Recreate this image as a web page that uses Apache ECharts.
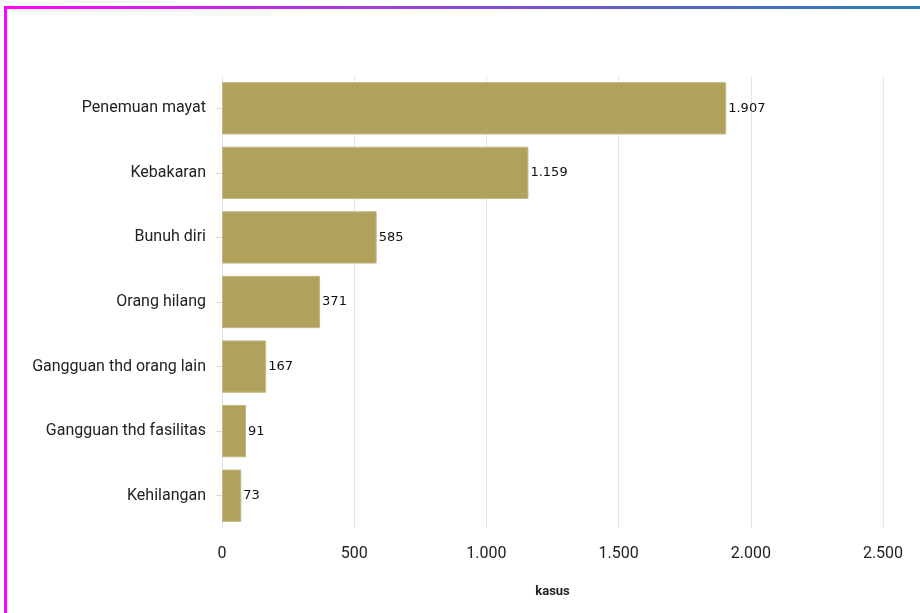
<!DOCTYPE html>
<html>
<head>
<meta charset="utf-8">
<script src="https://cdn.jsdelivr.net/npm/echarts@6/dist/echarts.min.js"></script>
<style>
  html, body { margin: 0; padding: 0; background: #fff; }
  #frame { position: absolute; left: 0; top: 0; width: 920px; height: 613px; }
  #topline { position: absolute; left: 4px; top: 6px; width: 916px; height: 3px;
    background: linear-gradient(to right, #ff00ff, #a43fd9 40%, #5a62c8 70%, #2a7db5); }
  #leftline { position: absolute; left: 4px; top: 6px; width: 3px; height: 607px; background: #ff00ff; }
  #chart { position: absolute; left: 0; top: 0; width: 920px; height: 613px; }
</style>
</head>
<body>
<div id="frame">
  <div id="chart"></div>
  <div id="topline"></div>
  <div id="leftline"></div>
</div>
<script>
// kategori kejadian
var kategori = ['Penemuan mayat', 'Kebakaran', 'Bunuh diri', 'Orang hilang',
    'Gangguan thd orang lain', 'Gangguan thd fasilitas', 'Kehilangan'];
// jumlah kasus
var kasus = [1907, 1159, 585, 371, 167, 91, 73];

function titik(v){
    return String(v).replace(/\B(?=(\d{3})+(?!\d))/g, '.');
}

var option = {
    animation: false,
    grid: { left: 222, right: 37, top: 76, bottom: 85 },
    xAxis: {
        type: 'value',
        min: 0,
        max: 2500,
        interval: 500,
        name: 'kasus',
        nameLocation: 'middle',
        nameGap: 57,
        nameTextStyle: { fontFamily: 'Roboto', fontWeight: 'bold', fontSize: 13, color: '#222' },
        axisLine: { show: false },
        axisTick: { show: false },
        axisLabel: {
            margin: 18,
            fontFamily: 'Roboto',
            fontSize: 16,
            color: '#222',
            formatter: function(v){ return titik(v); }
        },
        splitLine: { show: true, lineStyle: { color: '#e6e6e6', width: 1 } }
    },
    yAxis: {
        type: 'category',
        inverse: true,
        data: kategori,
        axisLine: { show: true, lineStyle: { color: '#e3e3e3', width: 1 } },
        axisTick: { show: true, length: 6, alignWithLabel: true, lineStyle: { color: '#d8d8d8' } },
        axisLabel: { margin: 16, fontFamily: 'Roboto', fontSize: 16, color: '#222' }
    },
    series: [{
        type: 'bar',
        data: kasus,
        barCategoryGap: '19%',
        itemStyle: { color: '#b0a25d', borderColor: '#c4b884', borderWidth: 1 },
        label: {
            show: true,
            position: 'right',
            distance: 2,
            fontFamily: 'DejaVu Sans',
            fontSize: 13,
            color: '#111',
            formatter: function(p){ return titik(p.value); }
        }
    }]
};

var myChart = echarts.init(document.getElementById('chart'));
myChart.setOption(option);
</script>
</body>
</html>
